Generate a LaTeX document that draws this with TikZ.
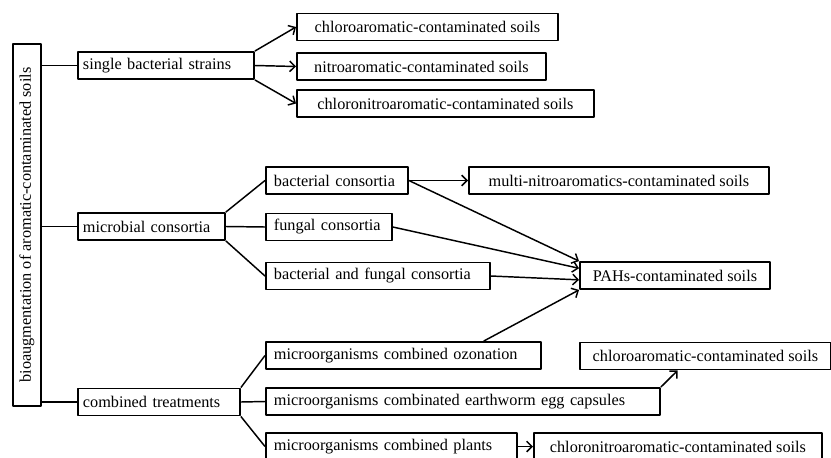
\documentclass[tikz,border=0pt]{standalone}
\usepackage{fontspec}
\setmainfont{Liberation Serif}
\usepackage{graphicx}
\usetikzlibrary{arrows.meta,calc}
\begin{document}
\begin{tikzpicture}[x=0.75pt,y=-0.75pt,font=\fontsize{12.2}{14}\selectfont,line join=round,>={Straight Barb[length=4pt,width=8pt]},
  box/.style={draw,line width=1.4pt,minimum height=20.25pt,inner ysep=1pt,anchor=west},
  lbox/.style={box,inner xsep=3.75pt,text width=#1,align=left},
  mbox/.style={box,inner xsep=6pt,text width=#1,align=left},
  rbox/.style={box,inner xsep=3pt,minimum width=#1},
  link/.style={line width=1.1pt}]
\useasboundingbox (0,0) rectangle (831,457);

\node[draw,line width=1.4pt,minimum width=21pt,minimum height=271.5pt,inner sep=0pt] (root) at (27,225) {\rotatebox{90}{bioaugmentation of aromatic-contaminated soils}};

\node[lbox=124.5pt] (sbs) at (77,65.5) {single bacterial strains};
\node[rbox=195.75pt] (chl1) at (296,27) {chloroaromatic-contaminated soils};
\node[rbox=186.75pt] (nit) at (296,66.5) {nitroaromatic-contaminated soils};
\node[rbox=222.75pt] (cnit1) at (296,103.5) {chloronitroaromatic-contaminated soils};

\node[lbox=102.75pt] (micro) at (77,226.5) {microbial consortia};
\node[mbox=94.5pt] (bact) at (265,180.5) {bacterial consortia};
\node[mbox=82.5pt] (fung) at (265,227) {fungal consortia};
\node[mbox=156pt] (bfc) at (265,276) {bacterial and fungal consortia};
\node[rbox=225pt] (multi) at (468,180.5) {multi-nitroaromatics-contaminated soils};
\node[rbox=142.5pt] (pahs) at (579,275.5) {PAHs-contaminated soils};

\node[lbox=114pt] (comb) at (77,402) {combined treatments};
\node[mbox=194.25pt] (ozon) at (265,355.5) {microorganisms combined ozonation};
\node[mbox=283.5pt] (earth) at (265,401.5) {microorganisms combinated earthworm egg capsules};
\node[mbox=176.25pt] (plant) at (265,446.5) {microorganisms combined plants};
\node[rbox=188.25pt] (chl2) at (579,356) {chloroaromatic-contaminated soils};
\node[rbox=216pt] (cnit2) at (533,446.5) {chloronitroaromatic-contaminated soils};

\coordinate (t2) at ($(pahs.north west)!0.25!(pahs.south west)$);
\coordinate (t3) at ($(pahs.north west)!0.65!(pahs.south west)$);
\coordinate (oz) at ($(ozon.north west)!0.79!(ozon.north east)$);
\coordinate (ew) at ($(chl2.south west)!0.39!(chl2.south east)$);

\foreach \a in {sbs,micro,comb}
  \draw[link] (root.east |- \a.west) -- (\a.west);
\foreach \a/\b in {micro.north east/bact,micro.east/fung,micro.south east/bfc,comb.north east/ozon,comb.east/earth,comb.south east/plant}
  \draw[link] (\a) -- (\b.west);
\foreach \a/\b in {sbs.north east/chl1.west,sbs.east/nit.west,sbs.south east/cnit1.west,bact.east/multi.west,plant.east/cnit2.west,bact.east/pahs.north west,fung.east/t2,bfc.east/t3,oz/pahs.south west,earth.north east/ew}
  \draw[link,->] (\a) -- (\b);
\end{tikzpicture}
\end{document}
